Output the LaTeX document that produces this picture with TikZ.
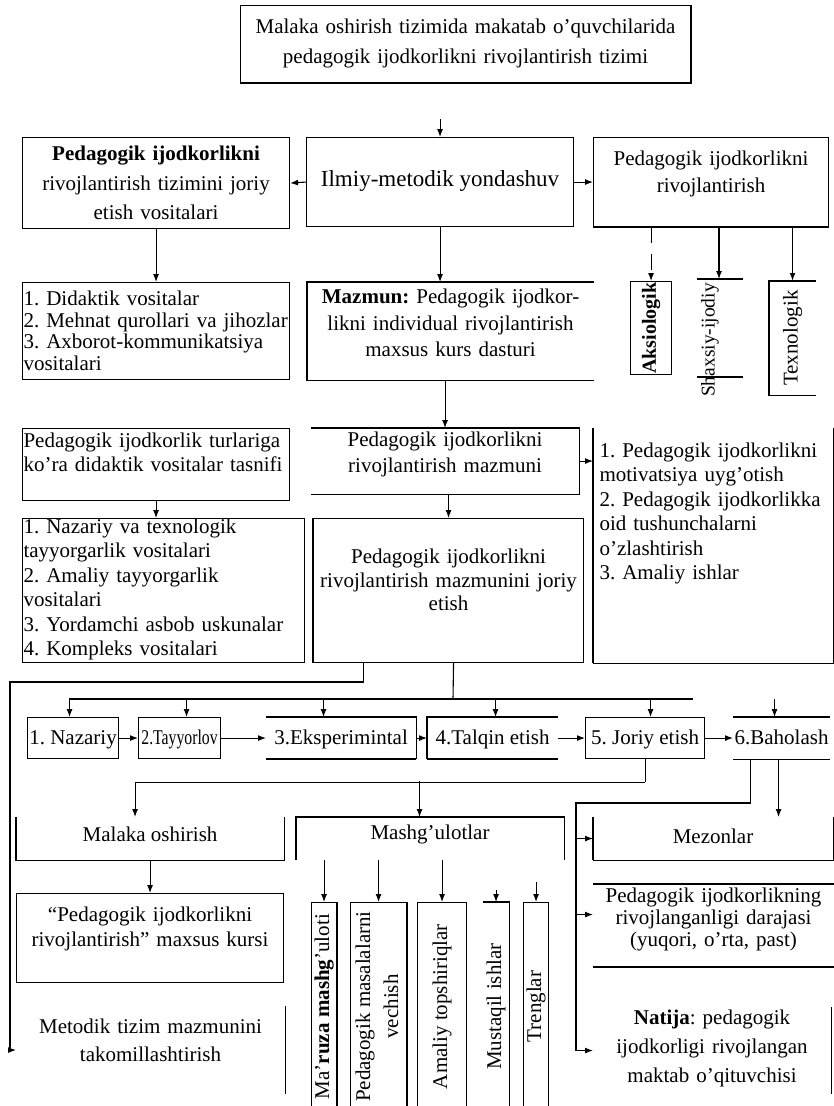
\documentclass[tikz,border=0pt]{standalone}
\usepackage{fontspec}
\setmainfont{Liberation Serif}
\usepackage{graphicx}
\usetikzlibrary{arrows.meta}
\newcommand{\boxfont}[1]{\fontsize{21}{#1}\selectfont}
\frenchspacing

\begin{document}
\begin{tikzpicture}[
			x=1pt,
			y=-1pt,
			line width=1.1pt,
			>={Latex[length=8pt,width=6pt]},
			box/.style={draw, anchor=north west, inner xsep=1pt, inner ysep=0pt,
				text height=15pt, font=\boxfont{24}},
			boxsize/.style 2 args={minimum width=#1pt, minimum height=#2pt,
				text width=#1pt-2pt},
			stage/.style={box, minimum height=41pt, text depth=2pt},
			colbox/.style={draw, anchor=north west, inner sep=0pt, font=\boxfont{24}},
			heavy/.style={line width=2pt}
		]
			\useasboundingbox (0,0) rectangle (834,1106);

			\node[box, boxsize={450}{77}, align=center, font=\boxfont{30}, text depth=36pt]
				(title) at (240,5) {Malaka oshirish tizimida makatab o’quvchilarida\\pedagogik ijodkorlikni rivojlantirish tizimi};
			\draw[heavy] (title.north east) -- (title.south east) -- (title.south west);

			\node[box, boxsize={267}{91}, align=center, font=\boxfont{29.5}, text depth=60pt]
				(tools) at (22,137) {\textbf{Pedagogik ijodkorlikni}\\rivojlantirish tizimini joriy\\etish vositalari};
			\node[box, minimum width=267pt, minimum height=89pt, font=\fontsize{23}{27}\selectfont, text depth=6pt]
				(approach) at (306,137) {Ilmiy-metodik yondashuv};
			\node[box, boxsize={235}{89}, align=center, font=\boxfont{27}, text depth=48pt]
				(develop) at (593,137) {Pedagogik ijodkorlikni\\rivojlantirish};
			\draw[heavy] (develop.south west) -- (develop.south east);

			\node[box, boxsize={267}{97}, align=left, font=\boxfont{21.5}, text depth=66pt]
				(didactic) at (22,282) {1. Didaktik vositalar\\2. Mehnat qurollari va jihozlar\\3. Axborot-kommunikatsiya\\vositalari};
			\node[box, boxsize={286}{97}, draw=none, align=center, font=\boxfont{26.5}, text depth=70pt]
				(content) at (307,282) {\textbf{Mazmun:} Pedagogik ijodkor-\\likni individual rivojlantirish\\maxsus kurs dasturi};
			\draw (content.north east) -- (content.north west) -- (content.south west) -- (content.south east);

			\node[colbox, minimum width=41pt, minimum height=93pt, font=\fontsize{20}{24}\selectfont\bfseries]
				(aksio) at (630,281) {\rotatebox{90}{Aksiologik}};
			\node[inner sep=0pt, font=\fontsize{19.5}{24}\selectfont]
				(personal) at (710,340) {\rotatebox{90}{Shaxsiy-ijodiy}};
			\coordinate (personalin) at (719,279);
			\draw (697,279) -- (743,279) (697,377) -- (743,377);
			\node[colbox, draw=none, minimum width=46pt, minimum height=113pt]
				(texno) at (769,281) {\rotatebox{90}{Texnologik}};
			\draw (texno.north east) -- (texno.north west) -- (texno.south west) -- (texno.south east);

			\node[box, boxsize={267}{72}, align=left, font=\boxfont{24}, text depth=49pt]
				(types) at (22,428) {Pedagogik ijodkorlik turlariga\\ko’ra didaktik vositalar tasnifi};
			\node[box, boxsize={267}{65}, draw=none, align=center, font=\boxfont{26}, text depth=44pt]
				(essence) at (311,428) {Pedagogik ijodkorlikni\\rivojlantirish mazmuni};
			\draw (essence.north west) -- (essence.north east) -- (essence.south east) -- (essence.south west);
			\node[box, boxsize={239}{234}, draw=none, align=left, inner xsep=6pt, text width=227pt,
				font=\boxfont{24.4}, text depth=191pt]
				(rightlist) at (593,428) {1. Pedagogik ijodkorlikni\\motivatsiya uyg’otish\\2. Pedagogik ijodkorlikka\\oid tushunchalarni\\o’zlashtirish\\3. Amaliy ishlar};
			\draw (rightlist.north east) -- (rightlist.south east) -- (rightlist.south west);
			\draw[heavy] (rightlist.south west) -- (rightlist.north west);

			\node[box, boxsize={282}{144}, align=left, font=\boxfont{24.4}, text height=9pt, text depth=123pt]
				(theory) at (22,518) {1. Nazariy va texnologik\\tayyorgarlik vositalari\\2. Amaliy tayyorgarlik\\vositalari\\3. Yordamchi asbob uskunalar\\4. Kompleks vositalari};
			\node[box, boxsize={270}{144}, align=center, font=\boxfont{23.5}, text depth=69pt]
				(implement) at (313,518) {Pedagogik ijodkorlikni\\rivojlantirish mazmunini joriy\\etish};
			\draw[heavy] (implement.north west) -- (implement.south west);

			\node[stage, minimum width=91pt] (s1) at (27,717) {1. Nazariy};
			\node[stage, minimum width=82pt] (s2) at (138,717) {\scalebox{0.75}[1]{2.Tayyorlov}};
			\node[stage, draw=none, minimum width=149pt] (s3) at (266,717) {3.Eksperimintal};
			\node[stage, draw=none, minimum width=130pt] (s4) at (427,717) {4.Talqin etish};
			\node[stage, minimum width=119pt] (s5) at (585,717) {5. Joriy etish};
			\node[stage, draw=none, minimum width=96pt] (s6) at (733,717) {6.Baholash};
			\draw (s3.north west) -- (s3.north east) -- (s3.south east);
			\draw[heavy] (s3.south west) -- (s3.south east);
			\draw (s4.south west) -- (s4.north west) -- (s4.north east);
			\draw[heavy] (s4.south west) -- (s4.south east);
			\draw (s6.north west) -- (s6.north east) (s6.south west) -- (s6.south east);

			\node[box, draw=none, minimum width=267pt, minimum height=42pt, text depth=9pt]
				(malaka) at (16,817) {Malaka oshirish};
			\draw (malaka.north west) -- (malaka.south west) -- (malaka.south east) -- (malaka.north east);
			\node[box, boxsize={267}{89}, align=center, font=\boxfont{25}, text depth=48pt]
				(course) at (16,893) {“Pedagogik ijodkorlikni\\rivojlantirish” maxsus kursi};
			\node[box, boxsize={268}{87}, draw=none, align=center, font=\boxfont{28}, text depth=48pt]
				(method) at (16,1006) {Metodik tizim mazmunini\\takomillashtirish};
			\draw (method.north east) -- (method.south east);

			\node[box, draw=none, minimum width=267pt, minimum height=42pt, text depth=13pt]
				(lessons) at (296,817) {Mashg’ulotlar};
			\draw (lessons.south west) -- (lessons.north west) -- (lessons.north east) -- (lessons.south east);
			\node[colbox, minimum width=25pt, minimum height=208pt]
				(r1) at (311,902) {\rotatebox{90}{Ma’\textbf{ruza mashg}’uloti}};
			\draw[heavy] (r1.north east) -- (r1.south east);
			\node[colbox, minimum width=54pt, minimum height=208pt, font=\boxfont{28}]
				(r2) at (350,902) {\rotatebox{90}{\begin{tabular}{@{}c@{}}Pedagogik masalalarni\\vechish\end{tabular}}};
			\draw[heavy] (r2.north east) -- (r2.south east);
			\node[colbox, minimum width=49pt, minimum height=208pt]
				(r3) at (417,902) {\rotatebox{90}{Amaliy topshiriqlar}};
			\node[colbox, draw=none, minimum width=25pt, minimum height=208pt]
				(r4) at (483,902) {\rotatebox{90}{Mustaqil ishlar}};
			\draw (r4.north west) -- (r4.north east) -- (r4.south east);
			\node[colbox, minimum width=25pt, minimum height=208pt]
				(r5) at (523,902) {\rotatebox{90}{Trenglar}};

			\node[box, draw=none, minimum width=239pt, minimum height=42pt, text depth=5pt]
				(criteria) at (593,817) {Mezonlar};
			\draw (criteria.north east) -- (criteria.south east) -- (criteria.south west);
			\draw[heavy] (criteria.south west) -- (criteria.north west);
			\node[box, boxsize={240}{82}, draw=none, align=center, font=\boxfont{22}, text depth=61pt]
				(level) at (593,884) {Pedagogik ijodkorlikning\\rivojlanganligi darajasi\\(yuqori, o’rta, past)};
			\draw (level.north west) -- (level.north east) -- (level.south east);
			\draw[heavy] (level.south east) -- (level.south west);
			\node[box, boxsize={237}{86}, draw=none, align=center, font=\boxfont{29}, text depth=67pt]
				(result) at (593,1007) {\textbf{Natija}: pedagogik\\ijodkorligi rivojlangan\\maktab o’qituvchisi};
			\draw (result.north east) -- (result.south east);

			% connectors
			\draw[->, shorten <=36pt] (title.south -| approach.north) -- (approach.north);
			\draw[->] (approach.west) -- (tools.east);
			\draw[->] (approach.east) -- (develop.west);
			\draw[->] (tools.south) -- (didactic.north);
			\draw[->] (approach.south) -- (approach.south |- content.north);
			\draw[->, dash pattern=on 16pt off 11pt] (develop.south -| aksio.north) -- (aksio.north);
			\draw[->] (develop.south -| personalin) -- (personalin);
			\draw[->, line width=1.8pt] (develop.south -| texno.north) -- (texno.north);
			\draw[->] (essence.north |- content.south) -- (essence.north);
			\draw[->] (essence.east) -- (essence.east -| rightlist.west);
			\draw[->] (types.south) -- (types.south |- theory.north);
			\draw[->] (implement.north |- essence.south) -- (implement.north);

			\coordinate (leftrail) at (10,682);
			\draw[->] ([xshift=-85pt]implement.south) |- (leftrail) |- (method.west);
			\coordinate (bus) at (453,699);
			\coordinate (busw) at (69,699);
			\coordinate (buse) at (693,699);
			\draw ([xshift=5pt]implement.south) -- (bus);
			\draw (busw) -- (buse);
			\foreach \s/\dx in {s1/-3.5, s2/7, s3/-17.5, s4/3, s5/5.5, s6/-7}
				\draw[->] ([xshift=\dx pt, yshift=18pt]\s.north) -- ([xshift=\dx pt]\s.north);
			\foreach \a/\b in {s1/s2, s2/s3, s3/s4, s4/s5, s5/s6}
				\draw[->] (\a.east) -- (\b.west);

			\coordinate (split) at ([yshift=-23pt]s5.south);
			\draw (s5.south) -- (split);
			\draw[->] (split) -| ([xshift=-15pt]malaka.north);
			\draw[->] ([xshift=-10.5pt, yshift=36pt]lessons.north) -- ([xshift=-10.5pt]lessons.north);
			\draw[->] (malaka.south) -- (course.north);
			\foreach \r in {r1, r2, r3}
				\draw[->] (\r.north |- lessons.south) -- (\r.north);
			\draw[->] ([yshift=12pt]r4.north) -- (r4.north);
			\draw[->] ([yshift=20pt]r5.north) -- (r5.north);

			\coordinate (bha) at ([xshift=-31pt]s6.south);
			\coordinate (bhb) at ([xshift=-3pt]s6.south);
			\coordinate (rail) at (576,803);
			\coordinate (levelin) at ([yshift=11pt]level.west);
			\draw[->] (bhb) -- (bhb |- criteria.north);
			\draw[->] (bha) |- (rail) |- (result.west);
			\draw[->] (rail |- criteria.west) -- (criteria.west);
			\draw[->] (rail |- levelin) -- (levelin);
		\end{tikzpicture}
\end{document}
